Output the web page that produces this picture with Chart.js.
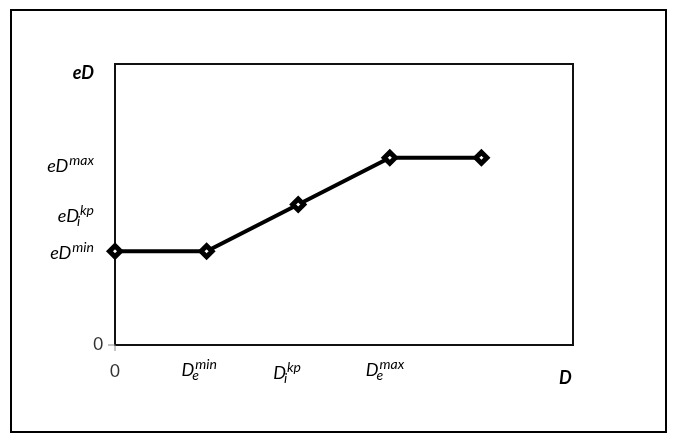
<!DOCTYPE html>
<html>
<head>
  <meta charset="utf-8">
  <title>eD(D)</title>
  <script src="https://cdn.jsdelivr.net/npm/chart.js"></script>
  <style>
    html, body { margin: 0; padding: 0; background: #fff; }
    #wrap { position: relative; width: 677px; height: 442px; }
  </style>
</head>
<body>
  <div id="wrap"><canvas id="grafico" width="677" height="442"></canvas></div>
  <script>
    // dati della curva
    var xValues = [0, 1, 2, 3, 4];
    var yValues = [2, 2, 3, 4, 4];

    // etichette degli assi (testo principale, pedice, apice)
    var xTickValues = [0, 1, 2, 3, 5];
    var xTickMain = ['0', 'D', 'D', 'D', 'D'];
    var xTickSub = ['', 'e', 'i', 'e', ''];
    var xTickSup = ['', 'min', 'kp', 'max', ''];

    var yTickValues = [0, 2, 3, 4, 6];
    var yTickMain = ['0', 'eD', 'eD', 'eD', 'eD'];
    var yTickSub = ['', '', 'i', '', ''];
    var yTickSup = ['', 'min', 'kp', 'max', ''];

    var FONT = 'Lato, "Open Sans", sans-serif';
    var F_MAIN = 'italic 18px ' + FONT;
    var F_BOLD = 'italic bold 18px ' + FONT;
    var F_SMALL = 'italic 14px ' + FONT;

    // larghezza totale di un'etichetta con pedice/apice
    function larghezza(ctx, main, sub, sup, bold) {
      ctx.font = bold ? F_BOLD : F_MAIN;
      var w = ctx.measureText(main).width;
      ctx.font = F_SMALL;
      var ws = Math.max(ctx.measureText(sub).width, ctx.measureText(sup).width);
      return w + (ws ? 1 + ws : 0);
    }
    // scrive testo con pedice/apice a partire da x0 (sinistra), baseline y
    function scriviEtichetta(ctx, x0, y, main, sub, sup, bold) {
      ctx.fillStyle = '#000';
      ctx.textAlign = 'left';
      ctx.textBaseline = 'alphabetic';
      ctx.font = bold ? F_BOLD : F_MAIN;
      ctx.fillText(main, x0, y);
      var w = ctx.measureText(main).width;
      ctx.font = F_SMALL;
      if (sup) ctx.fillText(sup, x0 + w + 1, y - 7);
      if (sub) ctx.fillText(sub, x0 + w - 2, y + 4);
    }
    function scriviZero(ctx, x, y, align) {
      ctx.font = '17px ' + FONT;
      ctx.fillStyle = '#333';
      ctx.textBaseline = 'middle';
      ctx.textAlign = align;
      ctx.fillText('0', x, y);
    }

    var cornice = {
      id: 'cornice',
      beforeDraw: function (chart) {
        var ctx = chart.ctx;
        ctx.save();
        ctx.strokeStyle = '#000';
        ctx.lineWidth = 2;
        ctx.strokeRect(11, 10, chart.width - 22, chart.height - 20);
        ctx.restore();
      },
      beforeDatasetsDraw: function (chart) {
        var ctx = chart.ctx;
        var a = chart.chartArea;
        ctx.save();
        ctx.strokeStyle = '#111';
        ctx.lineWidth = 2;
        ctx.strokeRect(a.left, a.top, a.right - a.left, a.bottom - a.top);
        // piccole tacche nell'origine
        ctx.lineWidth = 1;
        ctx.strokeStyle = '#888';
        ctx.beginPath();
        ctx.moveTo(a.left, a.bottom); ctx.lineTo(a.left, a.bottom + 6);
        ctx.moveTo(a.left, a.bottom); ctx.lineTo(a.left - 7, a.bottom);
        ctx.stroke();
        ctx.restore();
      },
      afterDraw: function (chart) {
        var ctx = chart.ctx;
        var a = chart.chartArea;
        var sx = chart.scales.x, sy = chart.scales.y;
        ctx.save();
        // scostamenti delle etichette rispetto alla posizione del valore
        var yBase = [0, 8, 17, 14, 15];
        for (var i = 0; i < yTickValues.length; i++) {
          var py = sy.getPixelForValue(yTickValues[i]);
          if (yTickMain[i] === '0') { scriviZero(ctx, a.left - 12, py, 'right'); continue; }
          var bold = i === yTickValues.length - 1;
          var w = larghezza(ctx, yTickMain[i], yTickSub[i], yTickSup[i], bold);
          scriviEtichetta(ctx, 94 - w, py + yBase[i], yTickMain[i], yTickSub[i], yTickSup[i], bold);
        }
        var xLeft = [0, -25, -25, -24, -14];
        var xBase = [0, 31, 34, 31, 39];
        for (var j = 0; j < xTickValues.length; j++) {
          var qx = sx.getPixelForValue(xTickValues[j]);
          if (xTickMain[j] === '0') { scriviZero(ctx, qx, a.bottom + 27, 'center'); continue; }
          scriviEtichetta(ctx, qx + xLeft[j], a.bottom + xBase[j], xTickMain[j], xTickSub[j], xTickSup[j], j === xTickValues.length - 1);
        }
        ctx.restore();
      }
    };

    new Chart(document.getElementById('grafico'), {
      type: 'line',
      data: {
        datasets: [{
          data: xValues.map(function (x, i) { return { x: x, y: yValues[i] }; }),
          borderColor: '#000',
          borderWidth: 4,
          pointStyle: 'rectRot',
          pointRadius: 5.5,
          pointBorderWidth: 5,
          pointBackgroundColor: '#fff',
          pointBorderColor: '#000',
          tension: 0,
          clip: false
        }]
      },
      options: {
        responsive: false,
        animation: false,
        devicePixelRatio: 1,
        layout: { padding: { left: 115, top: 64, right: 104, bottom: 97 } },
        plugins: { legend: { display: false }, tooltip: { enabled: false } },
        scales: {
          x: { type: 'linear', min: 0, max: 5, display: false },
          y: { type: 'linear', min: 0, max: 6, display: false }
        }
      },
      plugins: [cornice]
    });
  </script>
</body>
</html>
